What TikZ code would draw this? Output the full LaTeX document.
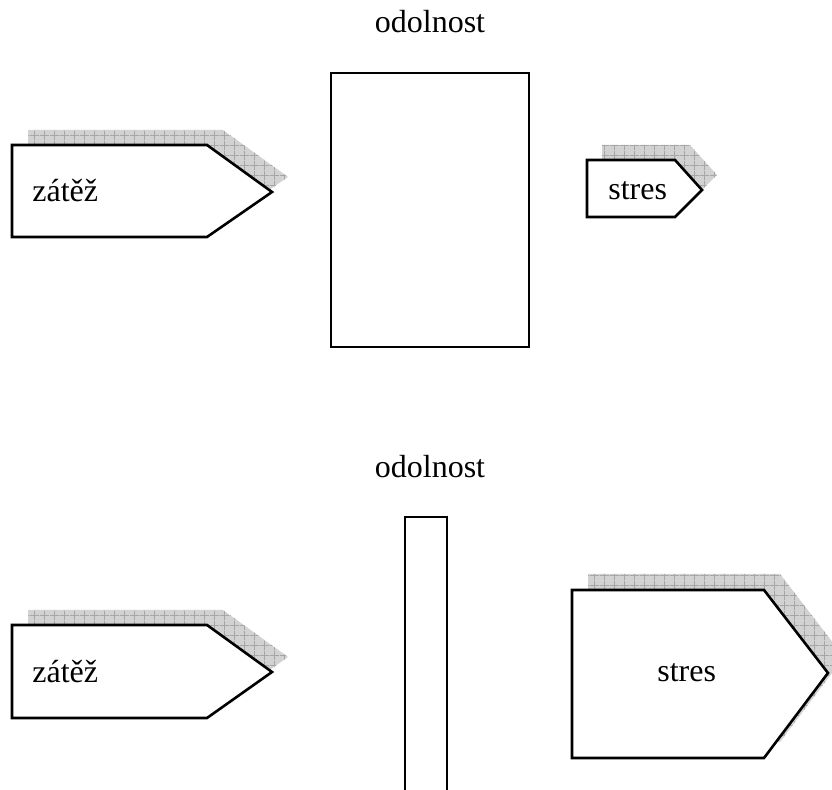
\documentclass[tikz,border=0pt]{standalone}
\usepackage{fontspec}
\setmainfont{Liberation Serif}
\usepackage{tikz}
\usetikzlibrary{positioning,patterns.meta}

\tikzdeclarepattern{
  name=shadowgrid,
  type=uncolored,
  bounding box={(0pt,0pt) and (5pt,5pt)},
  tile size={(5pt,5pt)},
  code={
    \draw[line width=0.4pt] (0pt,2.5pt) -- (5pt,2.5pt) (2.5pt,0pt) -- (2.5pt,5pt);
  }
}
\tikzset{
  every node/.append style={font=\fontsize{16}{19}\selectfont, inner sep=0pt},
  tagbox/.style={draw, line width=1.3pt, fill=white, line join=miter},
  tagshadow/.style={preaction={fill=gray!35}, pattern=shadowgrid, pattern color=gray!70},
  pillar/.style={draw, line width=1.3pt}
}

\begin{document}
\begin{tikzpicture}[x=0.5pt, y=-0.5pt]
\useasboundingbox (0,0) rectangle (832,790);

% upper situation
\node[anchor=base] (odolA) at (430,33) {odolnost};
\draw[pillar] (331,73) rectangle (529,347);

\fill[tagshadow, shift={(16,-15)}] (12,145) -- (207,145) -- (272,192) -- (207,237) -- (12,237) -- cycle;
\draw[tagbox] (12,145) -- (207,145) -- (272,192) -- (207,237) -- (12,237) -- cycle;
\node[anchor=base west] (zatezA) at (32,202) {zátěž};

\fill[tagshadow, shift={(15,-15)}] (587,160) -- (675,160) -- (702,190) -- (675,217) -- (587,217) -- cycle;
\draw[tagbox] (587,160) -- (675,160) -- (702,190) -- (675,217) -- (587,217) -- cycle;
\node[anchor=base west] (stresA) at (608,200) {stres};

% lower situation
\node[anchor=base] (odolB) at (430,478) {odolnost};
\draw[pillar] (405,795) -- (405,517) -- (447,517) -- (447,795);

\fill[tagshadow, shift={(16,-15)}] (12,625) -- (207,625) -- (272,672) -- (207,718) -- (12,718) -- cycle;
\draw[tagbox] (12,625) -- (207,625) -- (272,672) -- (207,718) -- (12,718) -- cycle;
\node[anchor=base west] (zatezB) at (32,683) {zátěž};

\fill[tagshadow, shift={(16,-16)}] (572,590) -- (764,590) -- (828,673) -- (764,758) -- (572,758) -- cycle;
\draw[tagbox] (572,590) -- (764,590) -- (828,673) -- (764,758) -- (572,758) -- cycle;
\node[anchor=base west] (stresB) at (657,682) {stres};
\end{tikzpicture}
\end{document}
